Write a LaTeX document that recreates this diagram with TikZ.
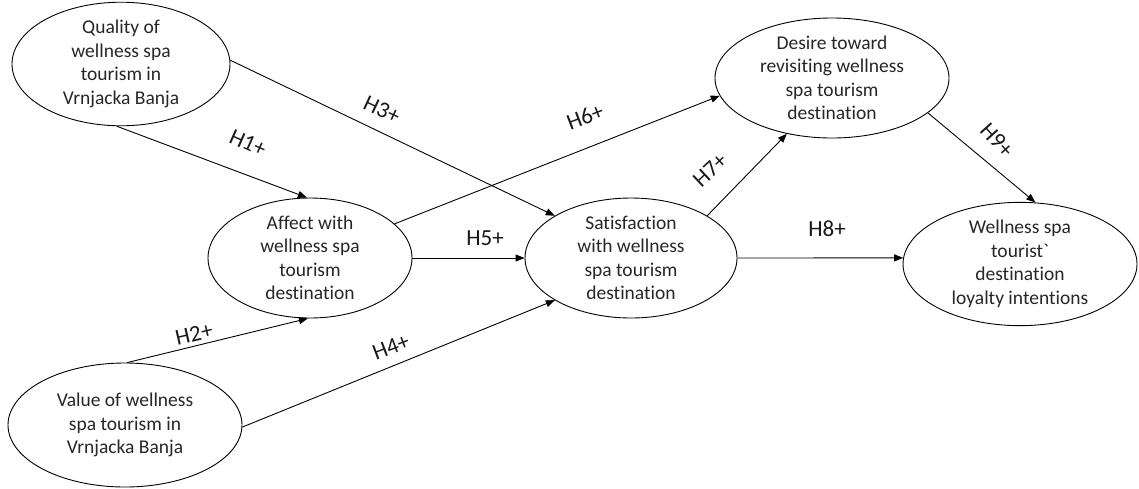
\documentclass[tikz,border=0pt]{standalone}
\usepackage{fontspec}
\setmainfont{Carlito}[Ligatures=NoCommon]
\usetikzlibrary{shapes.geometric,arrows.meta}
\begin{document}
\begin{tikzpicture}[x=1pt,y=-1pt,
  cons/.style={draw=black,line width=0.9pt,ellipse,inner sep=0pt,align=center,
    font=\fontsize{19.5}{23.5}\selectfont,text=black!85},
  conn/.style={line width=0.9pt,-{Triangle[length=9pt,width=7pt]}},
  hyp/.style={font=\fontsize{23}{26}\selectfont,text=black!90,inner sep=0pt}]
\useasboundingbox (0,0) rectangle (1139,488);
\node[cons,minimum width=218pt,minimum height=102pt] (q) at (121,64) {Quality of\\wellness spa\\tourism in\\Vrnjacka Banja};
\node[cons,minimum width=204pt,minimum height=120pt] (a) at (310,258) {Affect with\\wellness spa\\tourism\\destination};
\node[cons,minimum width=234pt,minimum height=124pt] (v) at (125,425) {Value of wellness\\spa tourism in\\Vrnjacka Banja};
\node[cons,minimum width=212pt,minimum height=120pt] (s) at (631,258) {Satisfaction\\with wellness\\spa tourism\\destination};
\node[cons,minimum width=234pt,minimum height=120pt] (d) at (832,78) {Desire toward\\revisiting wellness\\spa tourism\\destination};
\node[cons,minimum width=234pt,minimum height=120pt] (w) at (1020,264) {Wellness spa\\tourist\textasciigrave\\destination\\loyalty intentions};
\draw[conn] (q.266.5) -- (a.93.8);
\draw[conn] (q.2) -- (s.151.6);
\draw[conn] (v.88) -- (a.268);
\draw[conn] (v.359) -- (s.209.4);
\draw[conn] (a.0) -- (s.180);
\draw[conn] (a.22.4) -- (d.189.5);
\draw[conn] (s.29.2) -- (d.231.3);
\draw[conn] (s.0) -- (w.177);
\draw[conn] (d.340) -- (w.76.4);
\node[hyp,rotate=-24] (l1) at (248,143) {H1+};
\node[hyp,rotate=-25] (l3) at (382,110) {H3+};
\node[hyp,rotate=13] (l2) at (194,334) {H2+};
\node[hyp,rotate=21] (l4) at (391,347) {H4+};
\node[hyp] (l5) at (485,238) {H5+};
\node[hyp,rotate=21] (l6) at (585,117) {H6+};
\node[hyp,rotate=43] (l7) at (710,170) {H7+};
\node[hyp] (l8) at (827,229) {H8+};
\node[hyp,rotate=-48] (l9) at (997,140) {H9+};
\end{tikzpicture}
\end{document}
